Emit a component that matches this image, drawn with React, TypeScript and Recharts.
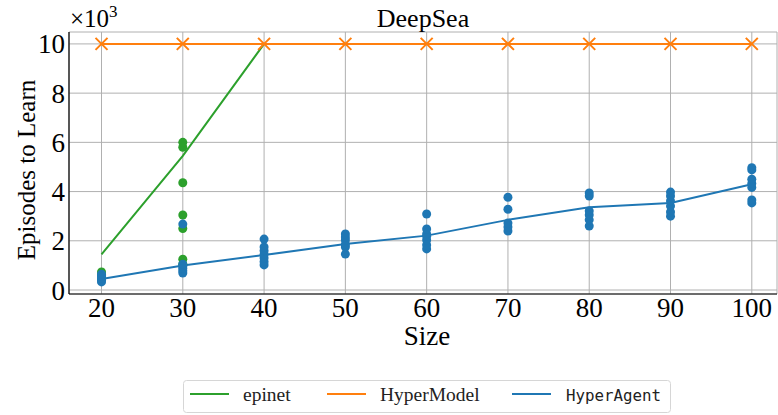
import React from "react";
import {
  ComposedChart,
  Line,
  Scatter,
  XAxis,
  YAxis,
  CartesianGrid,
  Legend,
} from "recharts";

const sizes = [20, 30, 40, 50, 60, 70, 80, 90, 100];
const xTicks = [20, 30, 40, 50, 60, 70, 80, 90, 100];
const yTicks = [0, 2000, 4000, 6000, 8000, 10000];

const epinetSizes = [20, 30, 40];
const epinetMean = [1450, 5450, 10000];
const epinetRuns = [
  [450, 600, 730],
  [1050, 1250, 2500, 3050, 4360, 5800, 6000],
];

const hyperModelMean = [10000, 10000, 10000, 10000, 10000, 10000, 10000, 10000, 10000];

const hyperAgentMean = [450, 1000, 1420, 1870, 2210, 2850, 3360, 3540, 4300];
const hyperAgentRuns = [
  [330, 400, 480, 560, 640],
  [690, 780, 870, 960, 1050, 2680],
  [1020, 1150, 1300, 1450, 1600, 1750, 2070],
  [1460, 1750, 1850, 2030, 2150, 2280],
  [1670, 1830, 2030, 2180, 2280, 2480, 3090],
  [2400, 2560, 2720, 3280, 3770],
  [2600, 2850, 3050, 3210, 3820, 3940],
  [3000, 3170, 3410, 3620, 3820, 3980],
  [3540, 3660, 4170, 4330, 4500, 4880, 4970],
];

const seriesNames = ["epinet", "HyperModel", "HyperAgent"];
const seriesColors = ["#2ca02c", "#ff7f0e", "#1f77b4"];

const toLine = (xs: number[], ys: number[]) => xs.map((x, i) => ({ x, y: ys[i] }));
const toPoints = (xs: number[], runs: number[][]) =>
  runs.flatMap((vals, i) => vals.map((y) => ({ x: xs[i], y })));

const epinetLine = toLine(epinetSizes, epinetMean);
const epinetPoints = toPoints(epinetSizes, epinetRuns);
const hyperModelLine = toLine(sizes, hyperModelMean);
const hyperAgentLine = toLine(sizes, hyperAgentMean);
const hyperAgentPoints = toPoints(sizes, hyperAgentRuns);

const SERIF = "Liberation Serif";
const MONO = "DejaVu Sans Mono";

const XDOMAIN: [number, number] = [16, 103.1];
const YDOMAIN: [number, number] = [-162, 10484];

const Cross = (props: any) => {
  const { cx, cy } = props;
  if (cx == null || cy == null) return null;
  const s = 6;
  return (
    <path
      d={`M${cx - s},${cy - s}L${cx + s},${cy + s}M${cx - s},${cy + s}L${cx + s},${cy - s}`}
      stroke={seriesColors[1]}
      strokeWidth={2}
      fill="none"
    />
  );
};

const Dot = (color: string) => (props: any) => {
  const { cx, cy } = props;
  if (cx == null || cy == null) return null;
  return <circle cx={cx} cy={cy} r={4.5} fill={color} />;
};

// legend item offsets inside the box (line start, text start)
const legendItems = [
  { line: 7, text: 60 },
  { line: 144, text: 197 },
  { line: 329, text: 383 },
];

const LegendBox = () => (
  <svg width={488} height={33} style={{ display: "block" }}>
    <rect
      x={0.5}
      y={0.5}
      width={487}
      height={32}
      rx={3}
      fill="#fff"
      stroke="#d6d6d6"
    />
    {seriesNames.map((name, i) => (
      <g key={name}>
        <line
          x1={legendItems[i].line}
          x2={legendItems[i].line + 39}
          y1={14}
          y2={14}
          stroke={seriesColors[i]}
          strokeWidth={2}
        />
        <text
          x={legendItems[i].text}
          y={20.5}
          fontFamily={i === 2 ? MONO : SERIF}
          fontSize={i === 2 ? 15.8 : 19.5}
          fill="#222"
        >
          {name}
        </text>
      </g>
    ))}
  </svg>
);

const App = () => {
  const tickStyle = { fill: "#000", fontSize: 27, fontFamily: SERIF };
  return (
    <div style={{ position: "absolute", left: 0, top: 0, width: 778, height: 415 }}>
      <ComposedChart
        width={778}
        height={415}
        margin={{ top: 32, right: 1, bottom: 81, left: 0 }}
      >
        <CartesianGrid stroke="#b0b0b0" strokeWidth={1} fill="none" />
        <XAxis
          type="number"
          dataKey="x"
          domain={XDOMAIN}
          ticks={xTicks}
          allowDataOverflow
          height={40}
          tickSize={0}
          tickMargin={4}
          tick={tickStyle}
          axisLine={{ stroke: "#000", strokeWidth: 1.2 }}
        />
        <XAxis
          xAxisId="top"
          orientation="top"
          type="number"
          domain={XDOMAIN}
          height={0}
          tick={false}
          tickLine={false}
          axisLine={{ stroke: "#000", strokeWidth: 1.2 }}
        />
        <YAxis
          type="number"
          dataKey="y"
          domain={YDOMAIN}
          ticks={yTicks}
          allowDataOverflow
          width={69}
          tickSize={0}
          tickMargin={4}
          tick={tickStyle}
          tickFormatter={(v: number) => String(v / 1000)}
          axisLine={{ stroke: "#000", strokeWidth: 1.2 }}
        />
        <YAxis
          yAxisId="right"
          orientation="right"
          type="number"
          domain={YDOMAIN}
          width={0}
          tick={false}
          tickLine={false}
          axisLine={{ stroke: "#000", strokeWidth: 1.2 }}
        />
        <Scatter
          name="epinet runs"
          data={epinetPoints}
          dataKey="y"
          fill={seriesColors[0]}
          shape={Dot(seriesColors[0])}
          isAnimationActive={false}
          legendType="none"
        />
        <Line
          name="epinet"
          data={epinetLine}
          dataKey="y"
          stroke={seriesColors[0]}
          strokeWidth={2}
          dot={false}
          isAnimationActive={false}
        />
        <Line
          name="HyperModel"
          data={hyperModelLine}
          dataKey="y"
          stroke={seriesColors[1]}
          strokeWidth={2}
          dot={<Cross />}
          isAnimationActive={false}
        />
        <Scatter
          name="HyperAgent runs"
          data={hyperAgentPoints}
          dataKey="y"
          fill={seriesColors[2]}
          shape={Dot(seriesColors[2])}
          isAnimationActive={false}
          legendType="none"
        />
        <Line
          name="HyperAgent"
          data={hyperAgentLine}
          dataKey="y"
          stroke={seriesColors[2]}
          strokeWidth={2}
          dot={false}
          isAnimationActive={false}
        />
        <Legend
          layout="vertical"
          align="center"
          verticalAlign="middle"
          wrapperStyle={{ left: 183, top: 380, width: 488, height: 33 }}
          content={() => <LegendBox />}
        />
        <text x={423} y={27} textAnchor="middle" fontFamily={SERIF} fontSize={26} fill="#000">
          DeepSea
        </text>
        <text x={70} y={27} fontFamily={SERIF} fontSize={25} fill="#000">
          ×10
          <tspan dy={-10} fontSize={17}>
            3
          </tspan>
        </text>
        <text x={427} y={345} textAnchor="middle" fontFamily={SERIF} fontSize={27} fill="#000">
          Size
        </text>
        <text
          x={35}
          y={170}
          textAnchor="middle"
          fontFamily={SERIF}
          fontSize={25}
          fill="#000"
          transform="rotate(-90 35 170)"
        >
          Episodes to Learn
        </text>
      </ComposedChart>
    </div>
  );
};

export default App;
